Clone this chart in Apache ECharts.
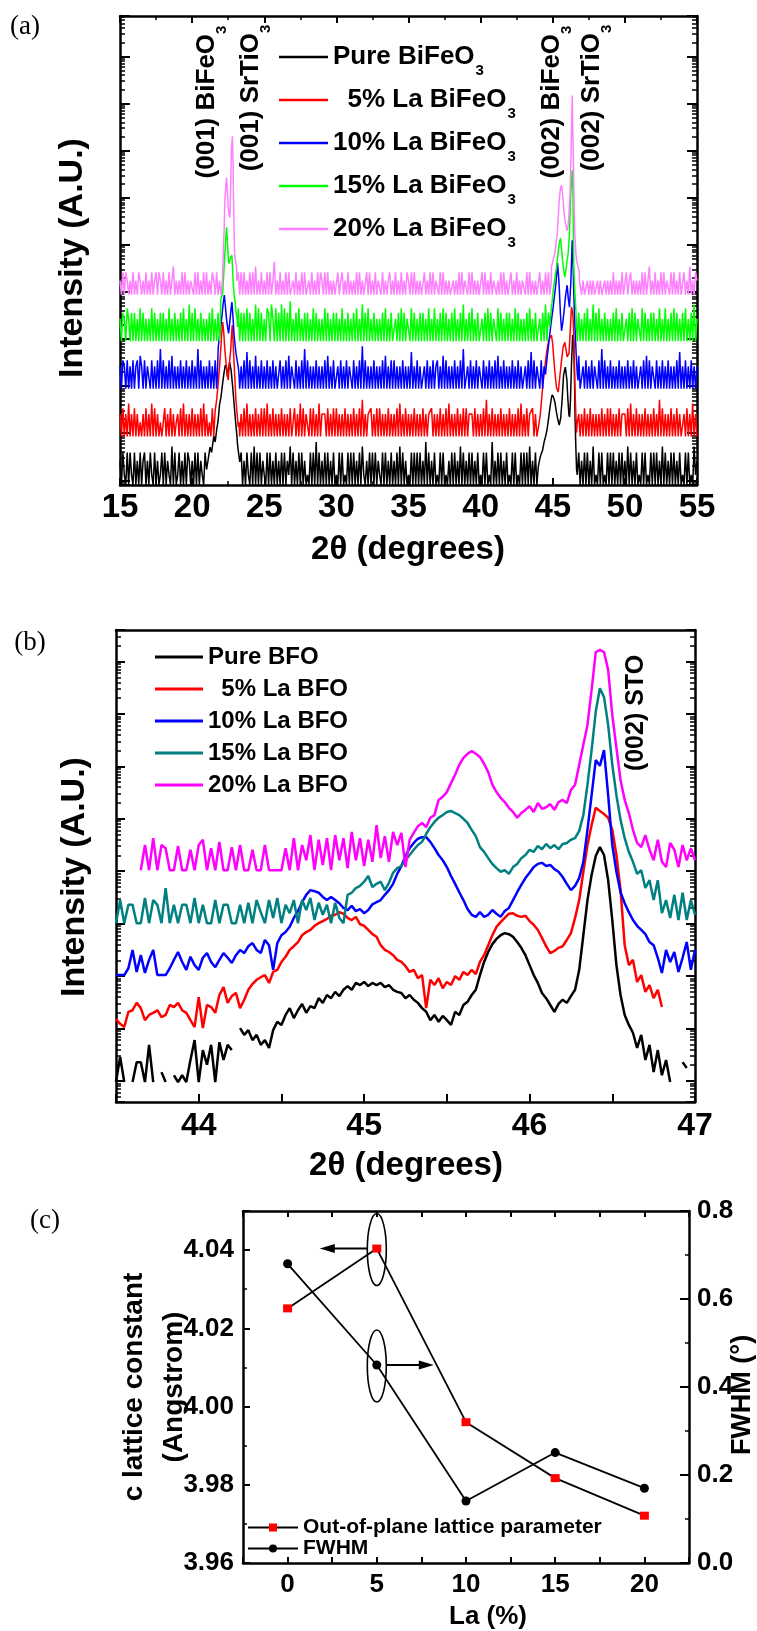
<!DOCTYPE html>
<html>
<head>
<meta charset="utf-8">
<title>La-doped BiFeO3 films: XRD and lattice parameters</title>
<script src="https://cdn.jsdelivr.net/npm/echarts@6/dist/echarts.min.js"></script>
<style>
  html, body { margin: 0; padding: 0; background: #fff; }
  #chart { width: 757px; height: 1631px; }
</style>
</head>
<body>
<div id="chart"></div>
<script>
// ---------------------------------------------------------------------------
// (a) 2θ scans 15°–55°. Background counts on a 0.1° grid (one group = 1°),
//     peak profiles around (001) and (002) given as [2θ, counts].
// ---------------------------------------------------------------------------
const A_START = 15;
const A_STEP = 0.1;
const aNames  = ['Pure BiFeO3', '5% La BiFeO3', '10% La BiFeO3', '15% La BiFeO3', '20% La BiFeO3'];
const aLegend = ['Pure BiFeO', '  5% La BiFeO', '10% La BiFeO', '15% La BiFeO', '20% La BiFeO'];
const aColors = ['#000000', '#ff0000', '#0000ff', '#00ff00', '#ff80ff'];
const aOffsets = [1.3, 8.5, 88, 900, 8700];   // stacking factor of each scan on the log axis

const aNoisePure = "2031030310 3020302302 0310302013 0302104030 1302030320 2030302103 0203102030 3010303020 2030302031 0304030302 1030302030 2030302140 3020303020 1030305030 2030302030 1030301030 3030203041 0203030302 1030302030 2030403020 1030303030 2050302030 1030301020 3030204030 2030302030 1030301050 2030302030 1030301030 3030402030 2030302030 1030301030 3030203030 2030302040 1030301030 3030203030 2040302030 1030301030 3030204030 2030302030 1030301041 2";
const aNoise5 = "3141315131 4131213141 3151413121 1413141312 3141513131 4131314151 3121413141 1314131413 3141314151 3131413141 4151314131 3141313141 1413151413 3141413151 3331413141 4131314131 3141314161 3133413141 4131314131 3141513141 3131413131 4131334131 3141314151 3131413141 4133314131 3141613141 3131413131 4131314151 3141334131 1314131413 3141314131 4131314131 3141314131 3131413141 4131314133 3141513141 3131413131 4131614131 3141314131 1314131513 1";
const aNoise10 = "3143141314 1341531413 3141314171 4131415131 3141314131 4131714131 3141314131 1314131413 3141314161 4131513141 3141314131 1413141513 3141314171 4131314131 3141513141 1314131413 3141314181 4131314131 3141513141 4131314131 3161314131 1314131413 4131514131 3141314171 1314131413 3141314131 4151314131 3141314131 1314161413 3141314131 4131314131 3141314151 1314131413 3141714131 4131314131 3141314131 1314151413 3141314131 4131314161 3141314131 3";
const aNoise15 = "3143153141 4131514131 3151413141 4131513141 3141513161 4151314131 3141513141 1314151413 3151414151 4131615141 3154163151 4161514171 3141513141 4131514131 3151413141 4131513141 3141513161 4151314131 3141513141 1314151413 3151413141 4131513151 3141514131 4151314161 3141513141 1314151413 3151413141 4131514131 3141513141 1314161413 3151413141 4131513141 3141513161 4151314131 3141513141 1314151413 3151413141 4131513151 3141514131 4151314161 3";
const aNoise20 = "2131321213 1213212131 2131231321 3121312412 1213131212 2131312131 3121321312 1312132131 2131313121 3131412131 2131312512 1312131311 2131213131 1213121313 2131312121 1312312131 2121313121 1313121312 2131212312 1312131213 2131312121 1312131312 2131312121 1212131312 2131312121 1313121312 2121313121 1312131212 2131312121 1312131312 2131312121 1213121312 1211212121 1212112121 2131212131 1312312121 2131312412 1312131312 2131312131 1312141213 2";

const aPeaksPure = [
  [[21.0,1.3],[21.1,2],[21.24,3.9],[21.35,3],[21.5,6.7],[21.6,5],[21.7,9],[21.8,14],[21.9,31],[22.0,45],[22.1,81],[22.2,140],[22.3,215],[22.38,190],[22.45,120],[22.52,170],[22.6,250],[22.7,170],[22.8,81],[22.9,35],[23.0,15],[23.1,7],[23.15,4.3],[23.25,2.5],[23.3,1.9]],
  [[44.0,1.5],[44.1,2.2],[44.2,2.8],[44.3,3.4],[44.4,5],[44.5,6.5],[44.6,9],[44.7,15],[44.8,26],[44.9,42],[44.96,50],[45.05,45],[45.15,35],[45.25,22],[45.35,15],[45.45,11.5],[45.55,16],[45.65,40],[45.75,132],[45.87,195],[45.98,104],[46.05,40],[46.12,19],[46.17,17],[46.23,40],[46.3,230],[46.38,930],[46.45,740],[46.5,150],[46.55,15],[46.6,4],[46.65,1.3],[46.7,1]]
];
const aPeaks5 = [
  [[21.55,2],[21.6,3.6],[21.7,6],[21.81,13.6],[21.9,30],[21.98,68],[22.05,150],[22.12,270],[22.2,150],[22.27,68],[22.38,30],[22.5,15.8],[22.6,40],[22.67,68],[22.73,140],[22.78,230],[22.84,100],[22.9,42],[22.97,15],[23.04,5.9],[23.12,3],[23.2,1.6],[23.25,2]],
  [[44.0,1.5],[44.06,1.4],[44.14,3],[44.22,5.9],[44.33,14],[44.45,30],[44.57,60],[44.68,96],[44.8,125],[44.91,142],[45.0,90],[45.08,42],[45.17,20],[45.26,11],[45.38,8.8],[45.5,20],[45.61,42],[45.72,80],[45.84,100],[45.92,70],[46.0,49],[46.07,45],[46.13,59],[46.2,150],[46.3,560],[46.37,450],[46.42,295],[46.48,80],[46.53,13.6],[46.6,3],[46.65,1.2],[46.7,2]]
];
const aPeaks10 = [
  [[21.75,2],[21.81,7.6],[21.92,15],[22.04,29],[22.14,60],[22.23,97],[22.31,55],[22.39,29],[22.46,20],[22.53,15],[22.62,28],[22.7,50],[22.76,69],[22.83,35],[22.9,15],[22.97,9],[23.04,5.7],[23.12,4],[23.2,2.9],[23.25,2]],
  [[44.5,2],[44.57,3.5],[44.68,7],[44.8,15],[44.92,30],[45.03,54],[45.13,100],[45.22,174],[45.33,465],[45.4,250],[45.45,144],[45.53,40],[45.61,17],[45.7,26],[45.79,46],[45.9,100],[46.0,158],[46.08,80],[46.16,54],[46.25,174],[46.31,600],[46.35,1420],[46.4,600],[46.44,174],[46.5,40],[46.56,15],[46.63,5],[46.7,2.1],[46.75,1.5]]
];
const aPeaks15 = [
  [[21.95,2],[21.98,7.4],[22.05,9],[22.12,10.5],[22.2,30],[22.27,74],[22.33,150],[22.39,263],[22.45,120],[22.53,45],[22.6,50],[22.67,60],[22.76,67],[22.85,17],[22.92,9],[22.97,7.4],[23.05,4],[23.13,2.8],[23.15,2]],
  [[44.8,2],[44.84,3.2],[44.94,6],[45.03,12],[45.15,22],[45.26,37],[45.36,70],[45.45,120],[45.54,154],[45.61,90],[45.68,52],[45.76,32],[45.84,23],[45.95,40],[46.07,74],[46.16,200],[46.23,980],[46.3,2500],[46.35,4260],[46.4,1500],[46.46,37],[46.53,12],[46.6,4.6],[46.65,2]]
];
const aPeaks20 = [
  [[22.1,2],[22.16,7.6],[22.22,25],[22.27,100],[22.33,200],[22.39,310],[22.45,140],[22.5,72],[22.56,50],[22.62,44],[22.68,250],[22.72,1170],[22.79,2330],[22.84,600],[22.87,100],[22.94,7.6],[23.02,5],[23.08,3.9],[23.1,2]],
  [[44.9,2],[44.91,3.9],[45.03,5.5],[45.15,7.6],[45.23,12],[45.31,20],[45.38,45],[45.45,102],[45.53,180],[45.61,213],[45.67,150],[45.72,102],[45.8,50],[45.88,33],[46.0,23],[46.07,30],[46.13,54],[46.2,150],[46.25,510],[46.3,3000],[46.35,17000],[46.39,3000],[46.44,510],[46.49,60],[46.53,20],[46.6,8],[46.65,5.4],[46.75,4],[46.83,3.3],[46.85,2]]
];
const aNoise = [aNoisePure, aNoise5, aNoise10, aNoise15, aNoise20];
const aPeaks = [aPeaksPure, aPeaks5, aPeaks10, aPeaks15, aPeaks20];

// ---------------------------------------------------------------------------
// (b) (002) region 43.5°–47°, 0.025° grid, intensities as log10 (decades)
// ---------------------------------------------------------------------------
const B_START = 43.5;
const B_STEP = 0.025;
const bNames  = ['Pure BFO', '5% La BFO', '10% La BFO', '15% La BFO', '20% La BFO'];
const bLegend = ['Pure BFO', '  5% La BFO', '10% La BFO', '15% La BFO', '20% La BFO'];
const bColors = ['#000000', '#ff0000', '#0000ff', '#008080', '#ff00ff'];

const bPure = [
  -0.02,0.46,-0.02,null,-0.02,0.36,0.36,-0.02,0.69,-0.02,
  null,0.17,-0.02,null,0.11,-0.02,0.11,-0.02,0.40,0.78,
  -0.02,0.59,0.31,0.69,-0.02,0.74,0.40,0.69,0.59,null,
  1.01,0.88,0.97,0.78,0.88,0.69,0.78,0.63,0.97,1.13,
  1.07,1.26,1.39,1.20,1.35,1.47,1.30,1.43,1.39,1.58,
  1.49,1.64,1.58,1.70,1.62,1.74,1.81,1.74,1.87,1.83,
  1.89,1.81,1.87,1.83,1.87,1.79,1.83,1.74,1.70,1.68,
  1.58,1.64,1.55,1.49,1.39,1.32,1.16,1.26,1.13,1.24,
  1.16,1.07,1.32,1.26,1.45,1.51,1.64,1.74,2.02,2.27,
  2.46,2.61,2.71,2.78,2.82,2.80,2.75,2.65,2.54,2.40,
  2.21,2.02,1.87,1.68,1.58,1.45,1.32,1.47,1.55,1.49,
  1.62,1.74,2.12,2.78,3.45,3.93,4.29,4.46,4.31,3.83,
  3.07,2.21,1.64,1.26,1.07,0.92,0.63,0.88,0.40,0.69,
  0.17,0.59,0.11,0.40,-0.02,null,null,0.36,0.25,null,0.11
];
const b5 = [
  1.18,1.09,1.03,1.32,1.35,1.49,1.39,1.16,1.26,1.30,
  1.35,1.22,1.26,1.45,1.41,1.49,1.35,1.30,1.16,1.03,
  1.60,1.01,1.45,1.41,1.30,1.64,1.79,1.49,1.62,1.68,
  1.39,1.55,1.74,1.85,1.93,1.98,2.02,1.87,2.08,2.12,
  2.27,2.37,2.50,2.57,2.65,2.78,2.84,2.88,2.96,3.01,
  3.05,3.09,3.15,3.17,3.22,3.19,3.11,3.07,3.13,2.99,
  2.96,2.88,2.80,2.75,2.59,2.50,2.46,2.40,2.31,2.27,
  2.19,2.08,2.12,1.96,2.02,1.39,1.93,1.83,1.96,1.77,
  1.89,1.83,2.00,1.93,2.08,2.02,2.12,2.04,2.27,2.40,
  2.59,2.78,2.94,3.03,3.11,3.19,3.20,3.15,3.13,3.15,
  3.05,2.98,2.88,2.73,2.57,2.44,2.48,2.54,2.57,2.69,
  2.82,3.11,3.45,3.99,4.50,4.88,5.21,5.15,5.09,5.02,
  4.79,4.31,3.64,2.59,2.21,2.31,1.89,2.02,1.70,1.83,
  1.58,1.74,1.41,null,null,null,null,null,null,null,null
];
const b10 = [
  2.02,2.02,2.02,2.15,2.50,2.08,2.40,2.06,2.31,2.50,
  2.02,2.02,2.02,2.15,2.31,2.46,2.27,2.12,2.37,2.21,
  2.12,2.35,2.44,2.27,2.17,2.31,2.44,2.35,2.25,2.40,
  2.50,2.44,2.57,2.63,2.50,2.44,2.69,2.59,2.12,2.63,
  2.78,2.84,2.94,3.11,3.24,3.41,3.55,3.64,3.62,3.59,
  3.51,3.45,3.51,3.45,3.39,3.30,3.26,3.34,3.24,3.28,
  3.20,3.26,3.37,3.41,3.45,3.55,3.64,3.76,3.95,4.10,
  4.29,4.44,4.54,4.62,4.65,4.65,4.56,4.44,4.31,4.21,
  4.08,3.91,3.76,3.60,3.45,3.28,3.17,3.13,3.22,3.13,
  3.17,3.26,3.19,3.13,3.24,3.30,3.45,3.60,3.74,3.87,
  3.97,4.08,4.14,4.16,4.10,4.12,4.04,3.99,3.89,3.76,
  3.64,3.72,3.87,4.18,4.79,5.45,6.12,6.01,6.31,5.45,
  4.50,3.99,3.60,3.39,3.22,3.07,2.96,2.88,2.80,2.65,
  2.59,2.35,2.06,2.50,2.27,2.46,2.08,2.35,2.65,2.12,2.50
];
const b15 = [
  3.01,3.45,3.01,3.36,3.36,3.01,3.01,3.49,3.01,3.45,
  3.36,3.01,3.68,3.01,3.36,3.01,3.36,3.36,3.01,3.49,
  3.01,3.36,3.01,3.01,3.45,3.01,3.36,3.36,3.01,3.01,
  3.36,3.01,3.40,3.01,3.45,3.22,3.01,3.45,3.11,3.49,
  3.01,3.36,3.20,3.45,3.01,3.45,3.26,3.49,3.07,3.40,
  3.17,3.36,3.01,3.40,3.11,3.01,3.55,3.59,3.68,3.72,
  3.80,3.91,3.70,3.76,3.80,3.64,3.78,3.97,4.06,4.10,
  4.21,4.31,4.41,4.50,4.56,4.71,4.84,4.94,5.02,5.07,
  5.13,5.15,5.11,5.07,5.00,4.92,4.79,4.67,4.46,4.37,
  4.25,4.14,4.06,3.99,4.02,3.95,4.08,4.14,4.25,4.31,
  4.41,4.37,4.48,4.42,4.52,4.44,4.50,4.42,4.52,4.54,
  4.60,4.63,4.77,5.07,5.65,6.31,7.04,7.49,7.32,6.79,
  6.03,5.45,4.98,4.63,4.37,4.18,3.95,4.02,3.68,3.83,
  3.45,3.83,3.20,3.45,3.11,3.55,3.07,3.59,3.07,3.45,3.17
];
const b20 = [
  null,null,null,null,null,null,4.02,4.50,4.02,4.63,
  4.02,4.50,4.44,4.02,4.02,4.48,4.02,4.02,4.41,4.02,
  4.50,4.60,4.02,4.44,4.02,4.56,4.02,4.02,4.46,4.02,
  4.50,4.02,4.02,4.41,4.02,4.02,4.50,4.02,4.02,4.02,
  4.02,4.44,4.02,4.63,4.02,4.50,4.21,4.69,4.02,4.60,
  4.12,4.63,4.02,4.69,4.21,4.63,4.06,4.75,4.21,4.63,
  4.10,4.60,4.18,4.88,4.25,4.67,4.18,4.75,4.50,4.73,
  4.08,4.60,4.73,4.86,4.92,4.84,5.02,5.07,5.36,5.42,
  5.51,5.68,5.84,6.03,6.16,6.24,6.29,6.24,6.18,6.05,
  5.89,5.65,5.51,5.40,5.32,5.21,5.13,5.02,5.11,5.17,
  5.24,5.13,5.30,5.19,5.22,5.28,5.17,5.32,5.36,5.30,
  5.55,5.65,6.03,6.41,6.79,7.46,8.18,8.22,8.18,7.84,
  6.98,6.35,5.74,5.36,5.11,4.79,4.54,4.46,4.69,4.41,
  4.21,4.60,4.18,4.08,4.54,4.41,4.08,4.50,4.21,4.44,4.21
];
const bScans = [bPure, b5, b10, b15, b20];

// ---------------------------------------------------------------------------
// (c) lattice constant and FWHM versus La content
// ---------------------------------------------------------------------------
const laPct    = [0, 5, 10, 15, 20];
const cLattice = [4.0251, 4.0404, 3.9960, 3.9817, 3.9721];
const fwhm     = [0.680, 0.450, 0.141, 0.251, 0.170];

// ---------------------------------------------------------------------------
const SANS  = "'Liberation Sans', Arial, Helvetica, sans-serif";
const SERIF = "'Liberation Serif', 'Times New Roman', serif";
const A_MIN = Math.pow(10, -0.1), A_MAX = Math.pow(10, 9.86);
const B_MIN = Math.pow(10, -0.4), B_MAX = Math.pow(10, 8.6);

function buildScanA(noise, peaks, offset) {
  const digits = noise.replace(/\s+/g, '');
  const pts = [];
  for (let i = 0; i < digits.length; i++) {
    const x = +(A_START + i * A_STEP).toFixed(2);
    const inPeak = peaks.some(p => x >= p[0][0] && x <= p[p.length - 1][0]);
    if (!inPeak) pts.push([x, +digits[i]]);
  }
  peaks.forEach(p => p.forEach(q => pts.push([q[0], q[1]])));
  pts.sort((u, v) => u[0] - v[0]);
  // zero counts sit on the axis floor
  return pts.map(([x, c]) => [x, c > 0 ? c * offset : A_MIN]);
}
function buildScanB(decades) {
  return decades.map((d, i) => [+(B_START + i * B_STEP).toFixed(3), d == null ? null : Math.pow(10, d)]);
}

const frame = { show: true, onZero: false, lineStyle: { color: '#000', width: 2.5 } };
const noLabel = { show: false };
function logTicks(len) {
  return {
    axisTick: { show: true, inside: true, length: len, lineStyle: { color: '#000', width: 2 } },
    minorTick: { show: true, splitNumber: 9, length: Math.round(len / 2), lineStyle: { color: '#000', width: 1.5 } }
  };
}
const tickLabel = (size, margin, fmt) => ({
  show: true, color: '#000', fontFamily: SANS, fontWeight: 'bold', fontSize: size, margin: margin, formatter: fmt
});

const xAxes = [
  // (a)
  { gridIndex: 0, type: 'value', position: 'bottom', min: 15, max: 55, interval: 5,
    axisLine: frame, axisLabel: tickLabel(33, 6),
    axisTick: { inside: true, length: 7, lineStyle: { width: 2, color: '#000' } },
    minorTick: { show: true, splitNumber: 2, length: 4, lineStyle: { width: 1.5, color: '#000' } },
    splitLine: { show: false } },
  { gridIndex: 0, type: 'value', position: 'top', min: 15, max: 55, interval: 5,
    axisLine: frame, axisLabel: noLabel,
    axisTick: { inside: true, length: 7, lineStyle: { width: 2, color: '#000' } },
    minorTick: { show: true, splitNumber: 2, length: 4, lineStyle: { width: 1.5, color: '#000' } },
    splitLine: { show: false } },
  // (b)
  { gridIndex: 1, type: 'value', position: 'bottom', min: 43.5, max: 47, interval: 0.5,
    axisLine: frame,
    axisLabel: tickLabel(32, 8, v => Math.abs(v - Math.round(v)) < 1e-6 ? String(Math.round(v)) : ''),
    axisTick: { inside: true, length: 8, lineStyle: { width: 2, color: '#000' } },
    splitLine: { show: false } },
  { gridIndex: 1, type: 'value', position: 'top', min: 43.5, max: 47, interval: 0.5,
    axisLine: frame, axisLabel: noLabel, axisTick: { show: false }, splitLine: { show: false } },
  // (c)
  { gridIndex: 2, type: 'value', position: 'bottom', min: -2.5, max: 22.5, interval: 2.5,
    axisLine: frame,
    axisLabel: tickLabel(26, 9, v => Math.abs(v / 5 - Math.round(v / 5)) < 1e-6 ? String(Math.round(v)) : ''),
    axisTick: { inside: true, length: 6, lineStyle: { width: 2, color: '#000' } },
    splitLine: { show: false } },
  { gridIndex: 2, type: 'value', position: 'top', min: -2.5, max: 22.5, interval: 2.5,
    axisLine: frame, axisLabel: noLabel,
    axisTick: { inside: true, length: 6, lineStyle: { width: 2, color: '#000' } },
    splitLine: { show: false } }
];

const yAxes = [
  // (a)
  Object.assign({ gridIndex: 0, type: 'log', logBase: 10, position: 'left', min: A_MIN, max: A_MAX, splitNumber: 10,
    axisLine: frame, axisLabel: noLabel, splitLine: { show: false } }, logTicks(10)),
  Object.assign({ gridIndex: 0, type: 'log', logBase: 10, position: 'right', min: A_MIN, max: A_MAX, splitNumber: 10,
    axisLine: frame, axisLabel: noLabel, splitLine: { show: false } }, logTicks(10)),
  // (b)
  Object.assign({ gridIndex: 1, type: 'log', logBase: 10, position: 'left', min: B_MIN, max: B_MAX, splitNumber: 9,
    axisLine: frame, axisLabel: noLabel, splitLine: { show: false } }, logTicks(9)),
  Object.assign({ gridIndex: 1, type: 'log', logBase: 10, position: 'right', min: B_MIN, max: B_MAX, splitNumber: 9,
    axisLine: frame, axisLabel: noLabel, splitLine: { show: false } }, logTicks(9)),
  // (c) left: lattice constant
  { gridIndex: 2, type: 'value', position: 'left', min: 3.96, max: 4.05, interval: 0.02,
    axisLine: frame,
    axisLabel: tickLabel(26, 9, v => Math.round(v * 100) % 2 === 0 ? v.toFixed(2) : ''),
    axisTick: { inside: true, length: 7, lineStyle: { width: 2, color: '#000' } },
    minorTick: { show: true, splitNumber: 2, length: 4, lineStyle: { width: 1.5, color: '#000' } },
    splitLine: { show: false } },
  // (c) right: FWHM
  { gridIndex: 2, type: 'value', position: 'right', min: 0, max: 0.8, interval: 0.2,
    axisLine: frame,
    axisLabel: tickLabel(26, 8, v => v.toFixed(1)),
    axisTick: { inside: true, length: 9, lineStyle: { width: 2, color: '#000' } },
    minorTick: { show: true, splitNumber: 2, length: 4, lineStyle: { width: 1.5, color: '#000' } },
    splitLine: { show: false } }
];

const series = [];
aNames.forEach((name, k) => series.push({
  name: name, type: 'line', xAxisIndex: 0, yAxisIndex: 0,
  data: buildScanA(aNoise[k], aPeaks[k], aOffsets[k]),
  symbol: 'none', showSymbol: false, clip: true,
  lineStyle: { color: aColors[k], width: 1.5 }, itemStyle: { color: aColors[k] }
}));
bNames.forEach((name, k) => series.push({
  name: name, type: 'line', xAxisIndex: 2, yAxisIndex: 2,
  data: buildScanB(bScans[k]), connectNulls: false,
  symbol: 'none', showSymbol: false, clip: true,
  lineStyle: { color: bColors[k], width: 2.5 }, itemStyle: { color: bColors[k] }
}));
const LATTICE_IDX = series.length;
series.push({
  name: 'Out-of-plane lattice parameter', type: 'line', xAxisIndex: 4, yAxisIndex: 4,
  data: laPct.map((x, i) => [x, cLattice[i]]),
  symbol: 'rect', symbolSize: [9, 8], showSymbol: true,
  lineStyle: { color: '#000', width: 1.8 }, itemStyle: { color: '#ff0000' }, z: 3
});
const FWHM_IDX = series.length;
series.push({
  name: 'FWHM', type: 'line', xAxisIndex: 4, yAxisIndex: 5,
  data: laPct.map((x, i) => [x, fwhm[i]]),
  symbol: 'circle', symbolSize: 9, showSymbol: true,
  lineStyle: { color: '#000', width: 1.8 }, itemStyle: { color: '#000' }, z: 3
});

const legendA = {
  data: aNames, orient: 'vertical', left: 279, top: 35.5, padding: 0,
  icon: 'rect', itemWidth: 49, itemHeight: 2.5, itemGap: 0, selectedMode: false,
  formatter: name => '{n|' + aLegend[aNames.indexOf(name)] + '}{s|3}',
  textStyle: {
    color: '#000', fontFamily: SANS, fontWeight: 'bold', fontSize: 26, lineHeight: 43,
    rich: {
      n: { color: '#000', fontFamily: SANS, fontWeight: 'bold', fontSize: 26, lineHeight: 43 },
      s: { color: '#000', fontFamily: SANS, fontWeight: 'bold', fontSize: 15, lineHeight: 15, verticalAlign: 'bottom', padding: [0, 0, 0, 1] }
    }
  }
};
const legendB = {
  data: bNames, orient: 'vertical', left: 155, top: 643, padding: 0,
  icon: 'rect', itemWidth: 48, itemHeight: 3, itemGap: 4, selectedMode: false,
  formatter: name => bLegend[bNames.indexOf(name)],
  textStyle: { color: '#000', fontFamily: SANS, fontWeight: 'bold', fontSize: 24, lineHeight: 28 }
};
const legendC = {
  data: ['Out-of-plane lattice parameter', 'FWHM'], orient: 'vertical', left: 247, top: 1517, padding: 0,
  itemWidth: 50, itemHeight: 10, itemGap: 0, selectedMode: false,
  textStyle: { color: '#000', fontFamily: SANS, fontWeight: 'bold', fontSize: 21, lineHeight: 19 }
};

function label(text, x, y, size, opts) {
  return Object.assign({
    type: 'text', x: x, y: y, silent: true,
    style: Object.assign({ text: text, fill: '#000', fontFamily: SANS, fontWeight: 'bold', fontSize: size,
      align: 'center', verticalAlign: 'middle' }, (opts && opts.style) || {})
  }, opts && opts.rotation ? { rotation: opts.rotation } : {});
}
const UP = Math.PI / 2;
function phaseLabel(main, x, y) {
  return {
    type: 'text', x: x, y: y, rotation: UP, silent: true,
    style: {
      text: '{n|' + main + '}{s|3}', align: 'center', verticalAlign: 'middle',
      rich: {
        n: { fill: '#000', fontFamily: SANS, fontWeight: 'bold', fontSize: 26, lineHeight: 45 },
        s: { fill: '#000', fontFamily: SANS, fontWeight: 'bold', fontSize: 15, lineHeight: 15, verticalAlign: 'bottom' }
      }
    }
  };
}

const graphics = [
  label('(a)', 25, 27, 27, { style: { fontFamily: SERIF, fontWeight: 'normal' } }),
  label('(b)', 30, 643, 27, { style: { fontFamily: SERIF, fontWeight: 'normal' } }),
  label('(c)', 45, 1221, 27, { style: { fontFamily: SERIF, fontWeight: 'normal' } }),
  // axis titles
  label('Intensity (A.U.)', 73, 258, 34, { rotation: UP }),
  label('2\u03b8 (degrees)', 408, 550, 33),
  label('Intensity (A.U.)', 75, 877, 34, { rotation: UP }),
  label('2\u03b8 (degrees)', 406, 1166, 33),
  label('c lattice constant', 134, 1387, 28, { rotation: UP }),
  label('(Angstrom)', 174, 1387, 28, { rotation: UP }),
  label('FWHM (\u00b0)', 743, 1395, 27, { rotation: UP }),
  label('La (%)', 488, 1617, 26),
  // reflections
  phaseLabel('(001) BiFeO', 207, 102),
  phaseLabel('(001) SrTiO', 251, 98),
  phaseLabel('(002) BiFeO', 552, 102),
  phaseLabel('(002) SrTiO', 592, 98),
  label('(002) STO', 636, 713, 25, { rotation: UP })
];

const chart = echarts.init(document.getElementById('chart'), null, { renderer: 'canvas', width: 757, height: 1631 });
chart.setOption({
  animation: false,
  backgroundColor: '#ffffff',
  grid: [
    { left: 120, top: 16, width: 577, height: 469, containLabel: false, outerBoundsMode: 'none' },
    { left: 116, top: 630, width: 579, height: 472, containLabel: false, outerBoundsMode: 'none' },
    { left: 243, top: 1211, width: 446, height: 352, containLabel: false, outerBoundsMode: 'none' }
  ],
  xAxis: xAxes,
  yAxis: yAxes,
  legend: [legendA, legendB, legendC],
  series: series,
  graphic: graphics
});

// markers pointing each (c) curve to its own axis
const pL = chart.convertToPixel({ seriesIndex: LATTICE_IDX }, [laPct[1], cLattice[1]]);
const pF = chart.convertToPixel({ seriesIndex: FWHM_IDX }, [laPct[1], fwhm[1]]);
const ink = { stroke: '#000', lineWidth: 1.6, fill: 'none' };
function arrow(px, py, dir) {
  const start = px + dir * 9.5, tip = px + dir * 57;
  return [
    { type: 'line', silent: true, shape: { x1: start, y1: py, x2: tip - dir * 12, y2: py }, style: { stroke: '#000', lineWidth: 2 } },
    { type: 'polygon', silent: true, shape: { points: [[tip, py], [tip - dir * 15, py - 4.5], [tip - dir * 15, py + 4.5]] }, style: { fill: '#000' } }
  ];
}
chart.setOption({
  graphic: graphics.concat([
    { type: 'ellipse', silent: true, shape: { cx: pL[0], cy: pL[1] + 1, rx: 9.5, ry: 36 }, style: ink },
    { type: 'ellipse', silent: true, shape: { cx: pF[0], cy: pF[1] + 1, rx: 9.5, ry: 36 }, style: ink }
  ], arrow(pL[0], pL[1], -1), arrow(pF[0], pF[1], 1))
});
</script>
</body>
</html>
